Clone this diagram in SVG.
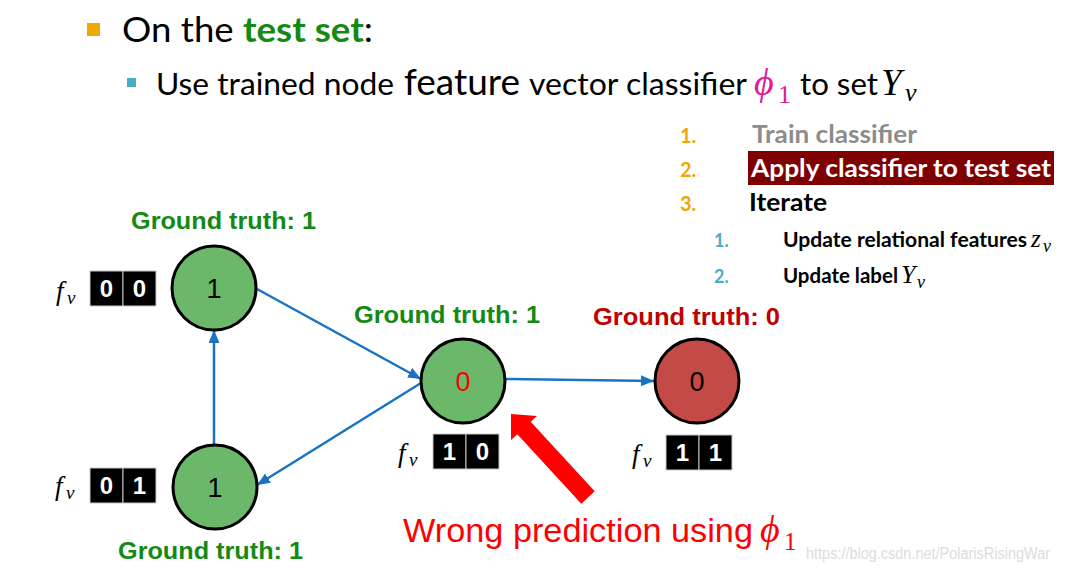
<svg xmlns="http://www.w3.org/2000/svg" width="1073" height="580" viewBox="0 0 1073 580">
<style>
.cal{font-family:Lato,"Open Sans","Liberation Sans",sans-serif}
.calb{font-family:Lato,"Open Sans","Liberation Sans",sans-serif;font-weight:bold}
.math{font-family:"Liberation Serif","DejaVu Serif",serif;font-style:italic}
.mathup{font-family:"Liberation Serif","DejaVu Serif",serif}
.gt{font-family:"Liberation Sans",Arial,sans-serif;font-weight:bold;font-size:23px}
.green{fill:#138a13}
.red{fill:#c00000}
.node{stroke:#000;stroke-width:3}
.gnode{fill:#6bb86b}
.rnode{fill:#c44a48}
.nlabel{font-family:"Liberation Sans",Arial,sans-serif;font-size:27px;text-anchor:middle}
.cell{fill:#000;stroke:#c8c8c8;stroke-width:1}
.digit{font-family:"Liberation Sans",Arial,sans-serif;font-weight:bold;font-size:24px;fill:#fff;text-anchor:middle}
.edge{stroke:#1a73c2;stroke-width:2.5;fill:none}
.num{font-family:Lato,"Open Sans","Liberation Sans",sans-serif;font-weight:bold;font-size:20px;fill:#f0a800}
.snum{font-family:Lato,"Open Sans","Liberation Sans",sans-serif;font-weight:bold;font-size:18px;fill:#4bacc6}
</style>
<defs>
<marker id="ah" markerUnits="userSpaceOnUse" markerWidth="14" markerHeight="12" refX="13" refY="5.5" orient="auto">
<path d="M0,0 L13,5.5 L0,11 z" fill="#1a73c2"/>
</marker>
</defs>
<rect width="1073" height="580" fill="#fff"/>

<g id="header">
<rect x="87" y="23" width="13" height="13" fill="#f0a800"/>
<text class="cal" x="122" y="42" font-size="34" textLength="251" lengthAdjust="spacingAndGlyphs">On the <tspan class="green" font-weight="bold">test set</tspan>:</text>
<rect x="127" y="78" width="9" height="9" fill="#4bacc6"/>
<text class="cal" x="156" y="95" font-size="30" textLength="238" lengthAdjust="spacingAndGlyphs">Use trained node</text>
<text class="cal" x="404" y="95" font-size="36" textLength="116" lengthAdjust="spacingAndGlyphs">feature</text>
<text class="cal" x="529" y="95" font-size="30" textLength="218" lengthAdjust="spacingAndGlyphs">vector classifier</text>
<text class="math" x="754" y="95" font-size="38" fill="#e3179a">ϕ</text>
<text class="mathup" x="778" y="103" font-size="26" fill="#e3179a">1</text>
<text class="cal" x="800" y="95" font-size="30" textLength="78" lengthAdjust="spacingAndGlyphs">to set</text>
<text class="math" x="881" y="95" font-size="37">Y</text>
<text class="math" x="905" y="101" font-size="26">v</text>
</g>

<g id="steps">
<text class="num" x="680" y="143">1.</text>
<text class="calb" x="752" y="143" font-size="25" fill="#8c8c8c" textLength="165" lengthAdjust="spacingAndGlyphs">Train classifier</text>
<rect x="748" y="151" width="306" height="34" fill="#7f0000"/>
<text class="num" x="680" y="177">2.</text>
<text class="calb" x="751" y="177" font-size="25" fill="#fff" textLength="300" lengthAdjust="spacingAndGlyphs">Apply classifier to test set</text>
<text class="num" x="680" y="211">3.</text>
<text class="calb" x="749" y="211" font-size="25" fill="#000" textLength="78" lengthAdjust="spacingAndGlyphs">Iterate</text>
<text class="snum" x="714" y="247">1.</text>
<text class="calb" x="783" y="247" font-size="20" fill="#000" textLength="244" lengthAdjust="spacingAndGlyphs">Update relational features</text>
<text class="math" x="1031" y="247" font-size="25">z</text>
<text class="math" x="1043" y="252" font-size="18">v</text>
<text class="snum" x="714" y="283">2.</text>
<text class="calb" x="783" y="283" font-size="20" fill="#000" textLength="115" lengthAdjust="spacingAndGlyphs">Update label</text>
<text class="math" x="901" y="283" font-size="26">Y</text>
<text class="math" x="917" y="288" font-size="18">v</text>
</g>

<g id="connectors">
<line class="edge" x1="257" y1="289" x2="421" y2="379" marker-end="url(#ah)"/>
<line class="edge" x1="421" y1="383" x2="257" y2="485" marker-end="url(#ah)"/>
<line class="edge" x1="214" y1="445" x2="214" y2="330" marker-end="url(#ah)"/>
<line class="edge" x1="505" y1="379" x2="654" y2="381" marker-end="url(#ah)"/>
</g>

<g id="node-top-left">
<text class="gt green" x="131" y="229" textLength="185" lengthAdjust="spacingAndGlyphs">Ground truth: 1</text>
<circle class="node gnode" cx="214" cy="288" r="42"/>
<text class="nlabel" x="214" y="298">1</text>
<text class="math" x="56" y="300" font-size="27">f</text>
<text class="math" x="67" y="304" font-size="19">v</text>
<rect class="cell" x="90" y="271" width="33" height="35"/>
<rect class="cell" x="123" y="271" width="33" height="35"/>
<text class="digit" x="106.5" y="297">0</text>
<text class="digit" x="139.5" y="297">0</text>
</g>

<g id="node-bottom-left">
<circle class="node gnode" cx="215" cy="487" r="42"/>
<text class="nlabel" x="215" y="497">1</text>
<text class="gt green" x="118" y="559" textLength="185" lengthAdjust="spacingAndGlyphs">Ground truth: 1</text>
<text class="math" x="55" y="495" font-size="27">f</text>
<text class="math" x="66" y="499" font-size="19">v</text>
<rect class="cell" x="90" y="468" width="33" height="35"/>
<rect class="cell" x="123" y="468" width="33" height="35"/>
<text class="digit" x="106.5" y="494">0</text>
<text class="digit" x="139.5" y="494">1</text>
</g>

<g id="node-middle">
<text class="gt green" x="354" y="323" textLength="186" lengthAdjust="spacingAndGlyphs">Ground truth: 1</text>
<circle class="node gnode" cx="463" cy="381" r="42"/>
<text class="nlabel" x="463" y="391" fill="#ff0000">0</text>
<text class="math" x="398" y="462" font-size="27">f</text>
<text class="math" x="409" y="466" font-size="19">v</text>
<rect class="cell" x="433" y="434" width="33" height="35"/>
<rect class="cell" x="466" y="434" width="33" height="35"/>
<text class="digit" x="449.5" y="460">1</text>
<text class="digit" x="482.5" y="460">0</text>
</g>

<g id="node-red">
<text class="gt red" x="593" y="325" textLength="187" lengthAdjust="spacingAndGlyphs">Ground truth: 0</text>
<circle class="node rnode" cx="697" cy="381" r="42"/>
<text class="nlabel" x="697" y="391">0</text>
<text class="math" x="632" y="463" font-size="27">f</text>
<text class="math" x="643" y="467" font-size="19">v</text>
<rect class="cell" x="666" y="435" width="33" height="35"/>
<rect class="cell" x="699" y="435" width="33" height="35"/>
<text class="digit" x="682.5" y="461">1</text>
<text class="digit" x="715.5" y="461">1</text>
</g>

<g id="annotation">
<polygon points="511,414 537,416 530.7,421.7 594.7,491.2 581.3,503.8 517.3,434.3 511,440" fill="#ff0000"/>
<text x="403" y="542" font-family="'Liberation Sans',Arial,sans-serif" font-size="34" fill="#ff0000" textLength="350" lengthAdjust="spacingAndGlyphs">Wrong prediction using</text>
<text class="math" x="760" y="542" font-size="38" fill="#ff0000">ϕ</text>
<text class="mathup" x="784" y="550" font-size="25" fill="#ff0000">1</text>
</g>

<text x="806" y="559" font-family="'Liberation Sans',Arial,sans-serif" font-size="16" fill="#dcdcdc" textLength="244" lengthAdjust="spacingAndGlyphs">https://blog.csdn.net/PolarisRisingWar</text>
</svg>
